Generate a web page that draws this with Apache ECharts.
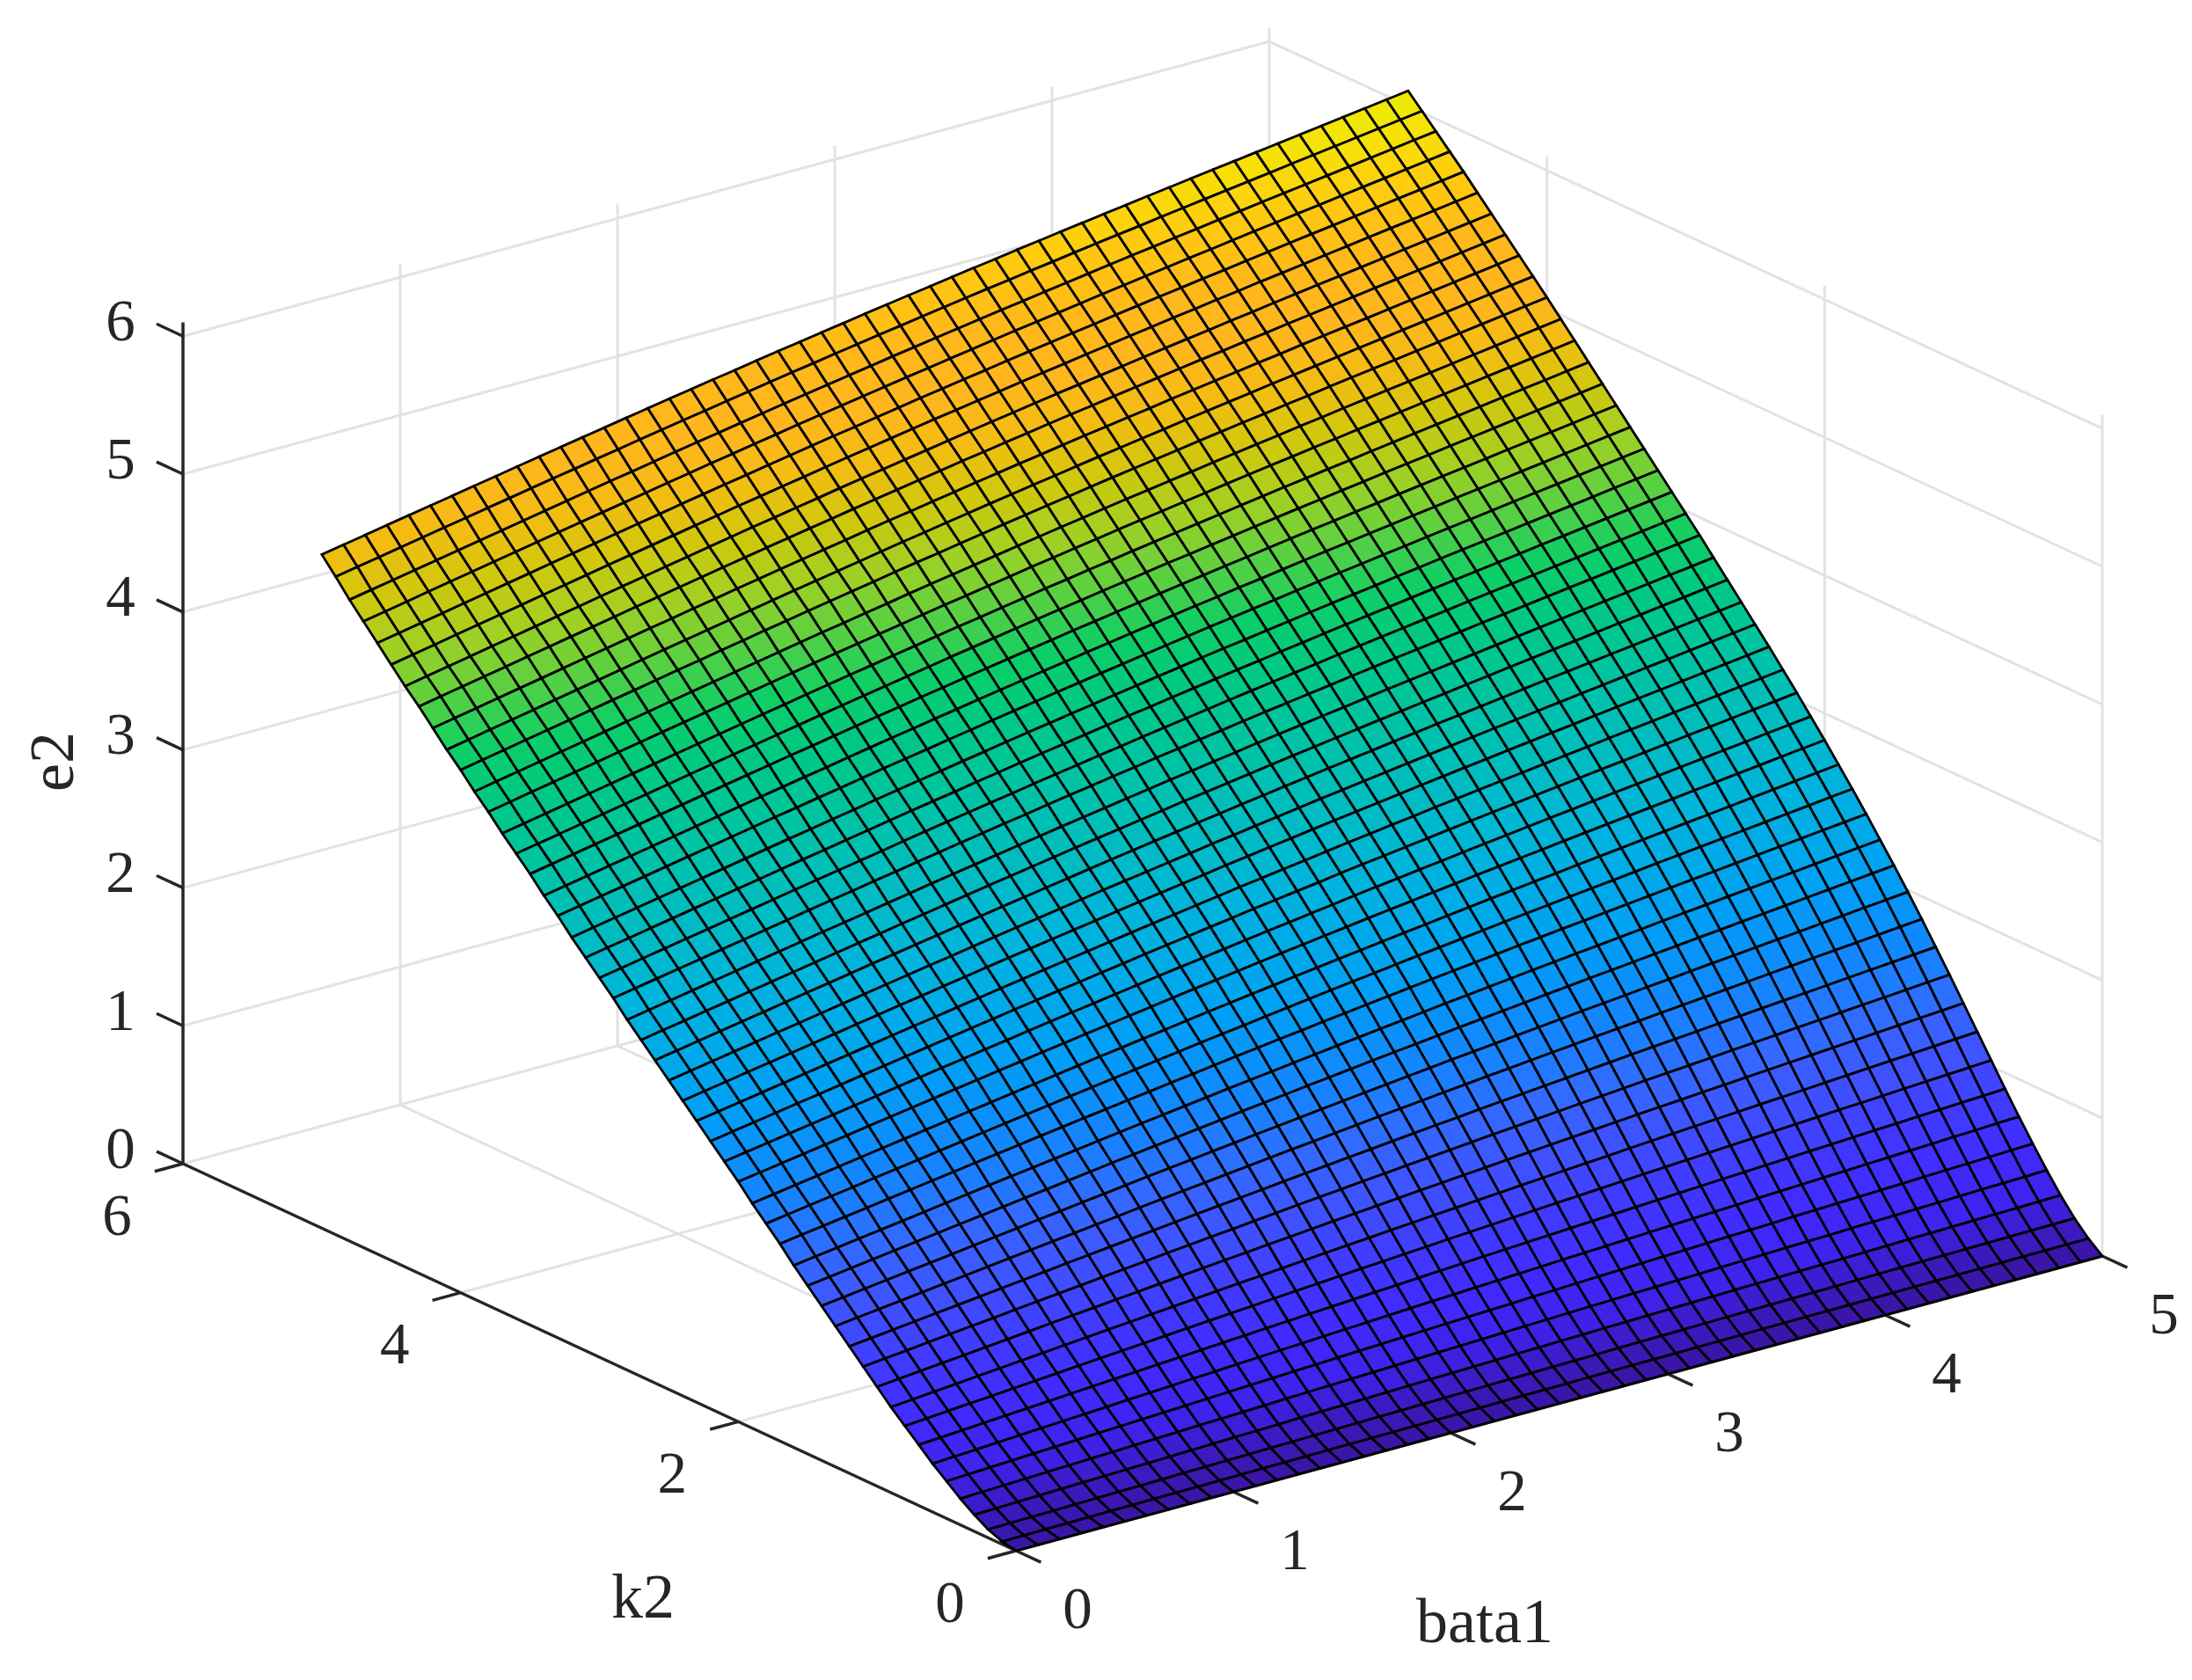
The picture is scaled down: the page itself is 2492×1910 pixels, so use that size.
<!DOCTYPE html>
<html>
<head>
<meta charset="utf-8">
<title>e2 surface</title>
<script src="https://cdn.jsdelivr.net/npm/echarts@6/dist/echarts.min.js"></script>
<style>
html, body { margin: 0; background: #fff; }
#chart { width: 2492px; height: 1910px; }
</style>
</head>
<body>
<div id="chart"></div>
<script>
var bata1 = [0,0.1,0.2,0.3,0.4,0.5,0.6,0.7,0.8,0.9,1,1.1,1.2,1.3,1.4,1.5,1.6,1.7,1.8,1.9,2,2.1,2.2,2.3,2.4,2.5,2.6,2.7,2.8,2.9,3,3.1,3.2,3.3,3.4,3.5,3.6,3.7,3.8,3.9,4,4.1,4.2,4.3,4.4,4.5,4.6,4.7,4.8,4.9,5]
var k2 = [0,0.1,0.2,0.3,0.4,0.5,0.6,0.7,0.8,0.9,1,1.1,1.2,1.3,1.4,1.5,1.6,1.7,1.8,1.9,2,2.1,2.2,2.3,2.4,2.5,2.6,2.7,2.8,2.9,3,3.1,3.2,3.3,3.4,3.5,3.6,3.7,3.8,3.9,4,4.1,4.2,4.3,4.4,4.5,4.6,4.7,4.8,4.9,5]
// one row per k2 value, one column per bata1 value
var e2 = [
[0,0,0,0,0,0,0,0,0,0, 0,0,0,0,0,0,0,0,0,0, 0,0,0,0,0,0,0,0,0,0, 0,0,0,0,0,0,0,0,0,0, 0,0,0,0,0,0,0,0,0,0,0],
[0.020,0.021,0.023,0.024,0.026,0.027,0.028,0.030,0.031,0.032, 0.034,0.035,0.037,0.038,0.039,0.041,0.042,0.043,0.044,0.046, 0.047,0.048,0.049,0.051,0.052,0.053,0.054,0.056,0.057,0.058, 0.059,0.060,0.061,0.062,0.063,0.065,0.066,0.067,0.068,0.069, 0.070,0.071,0.072,0.073,0.074,0.075,0.076,0.077,0.078,0.079,0.080],
[0.060,0.063,0.066,0.068,0.071,0.074,0.077,0.079,0.082,0.085, 0.088,0.090,0.093,0.096,0.098,0.101,0.104,0.106,0.109,0.111, 0.114,0.117,0.119,0.121,0.124,0.126,0.129,0.131,0.133,0.136, 0.138,0.140,0.142,0.145,0.147,0.149,0.151,0.153,0.155,0.157, 0.160,0.162,0.164,0.166,0.168,0.170,0.172,0.174,0.176,0.178,0.180],
[0.120,0.124,0.128,0.132,0.137,0.141,0.145,0.149,0.153,0.157, 0.161,0.165,0.170,0.173,0.178,0.182,0.186,0.189,0.193,0.197, 0.201,0.205,0.208,0.212,0.216,0.220,0.223,0.227,0.230,0.234, 0.237,0.240,0.244,0.247,0.250,0.254,0.257,0.260,0.263,0.266, 0.269,0.272,0.276,0.279,0.282,0.285,0.288,0.291,0.294,0.297,0.300],
[0.190,0.196,0.201,0.207,0.213,0.218,0.224,0.229,0.235,0.241, 0.246,0.252,0.257,0.263,0.268,0.274,0.279,0.284,0.290,0.295, 0.300,0.305,0.310,0.315,0.320,0.325,0.330,0.335,0.340,0.345, 0.349,0.354,0.358,0.363,0.367,0.372,0.376,0.380,0.385,0.389, 0.393,0.398,0.402,0.406,0.410,0.414,0.418,0.423,0.427,0.431,0.435],
[0.270,0.277,0.284,0.291,0.299,0.306,0.313,0.320,0.327,0.334, 0.341,0.348,0.355,0.362,0.369,0.376,0.383,0.389,0.396,0.403, 0.410,0.416,0.422,0.429,0.435,0.441,0.447,0.454,0.459,0.466, 0.472,0.477,0.483,0.489,0.494,0.500,0.506,0.511,0.516,0.522, 0.527,0.533,0.538,0.543,0.548,0.554,0.559,0.564,0.569,0.575,0.580],
[0.350,0.359,0.367,0.376,0.385,0.394,0.402,0.411,0.420,0.429, 0.437,0.446,0.455,0.463,0.472,0.480,0.488,0.496,0.505,0.513, 0.521,0.529,0.537,0.545,0.552,0.560,0.567,0.575,0.582,0.590, 0.597,0.604,0.611,0.618,0.625,0.632,0.639,0.645,0.652,0.659, 0.665,0.672,0.678,0.685,0.691,0.698,0.704,0.711,0.717,0.724,0.730],
[0.440,0.450,0.460,0.471,0.481,0.491,0.501,0.512,0.522,0.532, 0.542,0.552,0.562,0.572,0.582,0.592,0.602,0.611,0.621,0.630, 0.640,0.650,0.658,0.668,0.677,0.686,0.695,0.703,0.712,0.721, 0.729,0.737,0.746,0.754,0.762,0.770,0.778,0.786,0.794,0.801, 0.809,0.817,0.824,0.832,0.840,0.847,0.855,0.862,0.870,0.877,0.885],
[0.530,0.542,0.554,0.566,0.577,0.589,0.601,0.613,0.625,0.637, 0.648,0.660,0.672,0.683,0.695,0.706,0.717,0.728,0.740,0.750, 0.762,0.773,0.783,0.794,0.804,0.815,0.825,0.835,0.845,0.855, 0.865,0.874,0.884,0.893,0.903,0.912,0.921,0.930,0.939,0.948, 0.957,0.966,0.975,0.984,0.992,1.001,1.010,1.019,1.027,1.036,1.045],
[0.620,0.633,0.647,0.660,0.674,0.687,0.701,0.714,0.728,0.741, 0.755,0.767,0.781,0.794,0.807,0.820,0.833,0.845,0.858,0.870, 0.883,0.896,0.907,0.920,0.931,0.944,0.955,0.966,0.977,0.989, 1.000,1.011,1.022,1.032,1.044,1.054,1.065,1.075,1.085,1.095, 1.106,1.115,1.125,1.135,1.145,1.155,1.165,1.175,1.185,1.195,1.205],
[0.720,0.735,0.750,0.765,0.779,0.794,0.809,0.824,0.839,0.854, 0.868,0.883,0.897,0.912,0.926,0.941,0.955,0.968,0.983,0.996, 1.010,1.024,1.037,1.050,1.063,1.077,1.089,1.102,1.114,1.127, 1.139,1.151,1.163,1.175,1.187,1.199,1.210,1.221,1.233,1.244, 1.255,1.266,1.277,1.288,1.299,1.310,1.321,1.332,1.343,1.354,1.365],
[0.820,0.836,0.852,0.869,0.885,0.901,0.917,0.934,0.950,0.966, 0.982,0.998,1.014,1.029,1.046,1.061,1.077,1.091,1.107,1.122, 1.137,1.152,1.166,1.181,1.195,1.210,1.223,1.237,1.251,1.265, 1.278,1.291,1.304,1.317,1.330,1.343,1.356,1.368,1.380,1.392, 1.405,1.417,1.429,1.441,1.453,1.465,1.477,1.489,1.501,1.513,1.525],
[0.920,0.937,0.955,0.972,0.990,1.007,1.025,1.042,1.060,1.077, 1.095,1.112,1.129,1.146,1.163,1.180,1.197,1.213,1.229,1.245, 1.262,1.278,1.293,1.309,1.324,1.340,1.355,1.370,1.384,1.400, 1.414,1.428,1.442,1.456,1.470,1.484,1.498,1.511,1.524,1.537, 1.551,1.564,1.577,1.590,1.602,1.615,1.628,1.641,1.654,1.667,1.680],
[1.020,1.039,1.057,1.076,1.095,1.114,1.132,1.151,1.170,1.189, 1.207,1.225,1.244,1.262,1.281,1.299,1.317,1.334,1.352,1.369, 1.387,1.404,1.420,1.437,1.454,1.471,1.486,1.502,1.518,1.534, 1.550,1.564,1.580,1.595,1.610,1.625,1.639,1.653,1.668,1.682, 1.696,1.710,1.724,1.738,1.752,1.766,1.780,1.793,1.807,1.821,1.835],
[1.120,1.140,1.160,1.180,1.200,1.219,1.239,1.259,1.279,1.299, 1.319,1.338,1.358,1.377,1.397,1.416,1.435,1.453,1.472,1.490, 1.509,1.527,1.545,1.563,1.580,1.598,1.615,1.632,1.649,1.666, 1.682,1.698,1.714,1.730,1.746,1.762,1.777,1.792,1.808,1.822, 1.838,1.853,1.867,1.882,1.897,1.911,1.926,1.941,1.956,1.970,1.985],
[1.220,1.241,1.262,1.283,1.304,1.325,1.346,1.367,1.387,1.408, 1.429,1.449,1.470,1.490,1.511,1.531,1.551,1.570,1.590,1.609, 1.630,1.649,1.667,1.686,1.704,1.723,1.741,1.759,1.776,1.794, 1.812,1.828,1.845,1.862,1.879,1.895,1.912,1.927,1.943,1.959, 1.975,1.991,2.006,2.022,2.037,2.053,2.068,2.084,2.099,2.115,2.130],
[1.320,1.342,1.364,1.386,1.407,1.429,1.451,1.473,1.495,1.517, 1.539,1.559,1.581,1.602,1.624,1.645,1.666,1.686,1.707,1.727, 1.748,1.767,1.786,1.806,1.825,1.845,1.863,1.882,1.900,1.919, 1.938,1.955,1.973,1.990,2.008,2.025,2.042,2.058,2.075,2.091, 2.109,2.125,2.141,2.157,2.173,2.189,2.205,2.222,2.238,2.254,2.270],
[1.430,1.453,1.475,1.498,1.520,1.543,1.565,1.588,1.610,1.633, 1.655,1.677,1.700,1.721,1.744,1.765,1.787,1.807,1.829,1.849, 1.871,1.892,1.911,1.932,1.951,1.972,1.991,2.010,2.029,2.048, 2.067,2.085,2.103,2.121,2.140,2.157,2.175,2.191,2.209,2.226, 2.243,2.260,2.277,2.293,2.310,2.327,2.343,2.360,2.377,2.393,2.410],
[1.530,1.553,1.577,1.600,1.623,1.647,1.670,1.693,1.717,1.740, 1.763,1.786,1.809,1.831,1.855,1.877,1.899,1.921,1.943,1.964, 1.987,2.008,2.028,2.050,2.070,2.091,2.111,2.131,2.150,2.170, 2.190,2.208,2.227,2.246,2.265,2.283,2.301,2.319,2.337,2.354, 2.372,2.390,2.407,2.424,2.441,2.459,2.476,2.493,2.510,2.528,2.545],
[1.630,1.654,1.678,1.702,1.726,1.750,1.774,1.798,1.822,1.846, 1.870,1.893,1.917,1.940,1.964,1.987,2.010,2.032,2.055,2.077, 2.100,2.122,2.143,2.165,2.186,2.208,2.228,2.249,2.268,2.289, 2.309,2.328,2.348,2.367,2.387,2.405,2.424,2.442,2.461,2.479, 2.497,2.515,2.533,2.551,2.568,2.586,2.604,2.622,2.640,2.657,2.675],
[1.740,1.764,1.789,1.813,1.838,1.862,1.887,1.911,1.936,1.960, 1.985,2.008,2.033,2.056,2.081,2.104,2.128,2.150,2.173,2.196, 2.219,2.242,2.263,2.285,2.307,2.329,2.349,2.370,2.391,2.412, 2.432,2.451,2.472,2.491,2.511,2.530,2.549,2.567,2.587,2.605, 2.624,2.642,2.660,2.678,2.696,2.714,2.733,2.751,2.769,2.787,2.805],
[1.840,1.865,1.890,1.915,1.940,1.965,1.990,2.015,2.041,2.066, 2.091,2.115,2.140,2.164,2.189,2.213,2.237,2.260,2.284,2.307, 2.331,2.353,2.375,2.398,2.420,2.443,2.463,2.485,2.506,2.528, 2.549,2.568,2.589,2.608,2.629,2.649,2.668,2.687,2.707,2.725, 2.745,2.763,2.782,2.800,2.819,2.837,2.856,2.874,2.893,2.911,2.930],
[1.940,1.966,1.991,2.017,2.043,2.068,2.094,2.120,2.145,2.171, 2.196,2.221,2.247,2.271,2.297,2.321,2.346,2.369,2.394,2.417, 2.442,2.465,2.487,2.511,2.533,2.557,2.578,2.600,2.621,2.644, 2.665,2.685,2.706,2.726,2.747,2.767,2.787,2.806,2.826,2.845, 2.865,2.884,2.903,2.922,2.941,2.960,2.979,2.998,3.017,3.036,3.055],
[2.040,2.066,2.092,2.118,2.144,2.171,2.197,2.223,2.249,2.275, 2.301,2.326,2.352,2.377,2.403,2.428,2.453,2.477,2.502,2.526, 2.551,2.575,2.597,2.621,2.644,2.668,2.689,2.712,2.733,2.756, 2.778,2.798,2.820,2.840,2.862,2.882,2.903,2.922,2.942,2.962, 2.982,3.001,3.021,3.040,3.059,3.079,3.098,3.117,3.136,3.156,3.175],
[2.140,2.167,2.193,2.220,2.246,2.273,2.299,2.326,2.353,2.379, 2.406,2.431,2.458,2.483,2.510,2.535,2.560,2.585,2.610,2.634, 2.660,2.684,2.707,2.731,2.754,2.779,2.801,2.824,2.846,2.869, 2.891,2.912,2.933,2.954,2.976,2.997,3.018,3.037,3.058,3.078, 3.099,3.118,3.138,3.158,3.177,3.197,3.216,3.236,3.256,3.275,3.295],
[2.240,2.267,2.294,2.321,2.348,2.375,2.401,2.428,2.455,2.482, 2.509,2.535,2.562,2.587,2.614,2.640,2.666,2.690,2.716,2.741, 2.767,2.791,2.814,2.839,2.862,2.887,2.909,2.933,2.955,2.978, 3.001,3.022,3.044,3.065,3.087,3.108,3.129,3.149,3.170,3.190, 3.211,3.231,3.251,3.271,3.291,3.311,3.330,3.350,3.370,3.390,3.410],
[2.340,2.367,2.395,2.422,2.449,2.476,2.504,2.531,2.558,2.585, 2.613,2.639,2.666,2.692,2.719,2.745,2.771,2.796,2.822,2.847, 2.873,2.898,2.922,2.947,2.970,2.995,3.018,3.042,3.064,3.088, 3.110,3.132,3.154,3.175,3.198,3.219,3.241,3.261,3.282,3.302, 3.324,3.344,3.364,3.384,3.404,3.424,3.444,3.465,3.485,3.505,3.525],
[2.440,2.468,2.495,2.523,2.550,2.578,2.606,2.633,2.661,2.688, 2.716,2.742,2.770,2.796,2.824,2.850,2.877,2.902,2.928,2.954, 2.980,3.005,3.029,3.054,3.078,3.104,3.126,3.150,3.173,3.197, 3.220,3.242,3.264,3.286,3.309,3.330,3.352,3.372,3.394,3.414, 3.436,3.456,3.477,3.497,3.518,3.538,3.558,3.579,3.599,3.620,3.640],
[2.540,2.568,2.596,2.624,2.652,2.680,2.708,2.736,2.764,2.792, 2.819,2.846,2.874,2.901,2.929,2.956,2.982,3.008,3.035,3.060, 3.087,3.112,3.137,3.162,3.186,3.212,3.235,3.259,3.282,3.307, 3.330,3.352,3.375,3.397,3.420,3.442,3.463,3.484,3.506,3.527, 3.548,3.569,3.590,3.610,3.631,3.652,3.672,3.693,3.714,3.734,3.755],
[2.650,2.678,2.706,2.734,2.762,2.790,2.818,2.846,2.874,2.903, 2.931,2.957,2.986,3.012,3.040,3.067,3.094,3.120,3.147,3.172, 3.199,3.225,3.249,3.275,3.299,3.325,3.348,3.372,3.395,3.420, 3.443,3.465,3.488,3.510,3.533,3.555,3.577,3.598,3.620,3.641, 3.663,3.683,3.704,3.725,3.746,3.766,3.787,3.808,3.829,3.849,3.870],
[2.750,2.778,2.807,2.835,2.863,2.891,2.920,2.948,2.976,3.005, 3.033,3.060,3.088,3.115,3.144,3.171,3.198,3.224,3.251,3.276, 3.304,3.329,3.354,3.380,3.404,3.430,3.454,3.478,3.502,3.526, 3.550,3.572,3.595,3.617,3.641,3.663,3.685,3.706,3.728,3.749, 3.771,3.792,3.813,3.834,3.855,3.875,3.896,3.917,3.938,3.959,3.980],
[2.850,2.879,2.907,2.936,2.964,2.993,3.021,3.050,3.078,3.107, 3.135,3.162,3.191,3.218,3.247,3.274,3.301,3.327,3.355,3.381, 3.408,3.434,3.459,3.485,3.510,3.536,3.559,3.584,3.608,3.632, 3.656,3.678,3.702,3.724,3.748,3.770,3.792,3.813,3.836,3.857, 3.879,3.900,3.921,3.942,3.964,3.985,4.006,4.027,4.048,4.069,4.090],
[2.950,2.979,3.008,3.036,3.065,3.094,3.123,3.151,3.180,3.209, 3.238,3.265,3.294,3.321,3.350,3.378,3.405,3.431,3.459,3.485, 3.513,3.539,3.564,3.590,3.615,3.641,3.665,3.690,3.714,3.739, 3.763,3.785,3.809,3.831,3.855,3.878,3.900,3.921,3.944,3.965, 3.988,4.009,4.030,4.051,4.073,4.094,4.115,4.136,4.158,4.179,4.200],
[3.060,3.089,3.118,3.146,3.175,3.204,3.233,3.261,3.290,3.319, 3.348,3.375,3.404,3.431,3.460,3.488,3.515,3.541,3.569,3.595, 3.623,3.649,3.674,3.700,3.725,3.751,3.775,3.800,3.824,3.849, 3.873,3.895,3.919,3.941,3.965,3.988,4.010,4.031,4.054,4.075, 4.098,4.119,4.140,4.161,4.183,4.204,4.225,4.246,4.268,4.289,4.310],
[3.160,3.189,3.218,3.247,3.276,3.305,3.334,3.363,3.392,3.421, 3.450,3.478,3.507,3.534,3.563,3.591,3.619,3.645,3.673,3.699, 3.727,3.753,3.779,3.805,3.830,3.857,3.881,3.906,3.930,3.955, 3.979,4.002,4.026,4.048,4.072,4.095,4.118,4.139,4.162,4.183, 4.206,4.227,4.249,4.270,4.291,4.313,4.334,4.356,4.377,4.399,4.420],
[3.270,3.299,3.328,3.357,3.386,3.415,3.444,3.473,3.502,3.531, 3.560,3.588,3.617,3.644,3.673,3.701,3.729,3.755,3.783,3.809, 3.837,3.863,3.889,3.915,3.940,3.967,3.991,4.016,4.040,4.065, 4.089,4.112,4.136,4.158,4.182,4.205,4.228,4.249,4.272,4.293, 4.316,4.337,4.359,4.380,4.401,4.423,4.444,4.466,4.487,4.509,4.530],
[3.370,3.399,3.428,3.458,3.487,3.516,3.545,3.574,3.604,3.633, 3.662,3.690,3.719,3.747,3.776,3.804,3.832,3.859,3.887,3.914, 3.942,3.968,3.994,4.020,4.046,4.072,4.096,4.122,4.146,4.171, 4.196,4.218,4.242,4.265,4.289,4.312,4.335,4.357,4.380,4.401, 4.424,4.446,4.467,4.489,4.510,4.532,4.554,4.575,4.597,4.618,4.640],
[3.470,3.499,3.529,3.558,3.588,3.617,3.647,3.676,3.706,3.735, 3.764,3.793,3.822,3.850,3.880,3.908,3.936,3.963,3.991,4.018, 4.046,4.073,4.098,4.125,4.151,4.178,4.202,4.228,4.252,4.278, 4.302,4.325,4.349,4.372,4.397,4.420,4.443,4.465,4.488,4.509, 4.532,4.554,4.576,4.598,4.619,4.641,4.663,4.685,4.706,4.728,4.750],
[3.580,3.609,3.639,3.668,3.698,3.727,3.757,3.786,3.816,3.845, 3.874,3.903,3.932,3.960,3.990,4.018,4.046,4.073,4.101,4.128, 4.156,4.183,4.208,4.235,4.261,4.288,4.312,4.338,4.362,4.388, 4.412,4.435,4.459,4.482,4.507,4.530,4.553,4.575,4.598,4.619, 4.642,4.664,4.686,4.708,4.729,4.751,4.773,4.795,4.816,4.838,4.860],
[3.680,3.710,3.739,3.769,3.799,3.828,3.858,3.888,3.917,3.947, 3.977,4.005,4.035,4.063,4.093,4.121,4.150,4.177,4.205,4.232, 4.261,4.288,4.313,4.340,4.366,4.393,4.418,4.444,4.468,4.494, 4.519,4.542,4.566,4.589,4.614,4.637,4.660,4.682,4.706,4.727, 4.751,4.773,4.795,4.816,4.838,4.860,4.882,4.904,4.926,4.948,4.970],
[3.790,3.820,3.849,3.879,3.909,3.938,3.968,3.998,4.027,4.057, 4.087,4.115,4.145,4.173,4.203,4.231,4.260,4.287,4.315,4.342, 4.371,4.398,4.423,4.450,4.476,4.503,4.528,4.554,4.578,4.604, 4.629,4.652,4.676,4.699,4.724,4.747,4.770,4.792,4.816,4.837, 4.861,4.883,4.905,4.926,4.948,4.970,4.992,5.014,5.036,5.058,5.080],
[3.890,3.920,3.950,3.979,4.009,4.039,4.069,4.098,4.128,4.158, 4.188,4.216,4.246,4.275,4.304,4.333,4.361,4.389,4.417,4.444, 4.473,4.500,4.526,4.553,4.579,4.606,4.631,4.657,4.681,4.707, 4.732,4.755,4.780,4.803,4.828,4.851,4.874,4.896,4.920,4.942, 4.965,4.987,5.009,5.031,5.053,5.075,5.097,5.119,5.141,5.163,5.185],
[4.000,4.030,4.059,4.089,4.119,4.148,4.178,4.208,4.237,4.267, 4.297,4.325,4.355,4.383,4.413,4.441,4.470,4.497,4.525,4.552, 4.581,4.608,4.633,4.660,4.686,4.713,4.738,4.764,4.788,4.814, 4.839,4.862,4.886,4.909,4.934,4.957,4.980,5.002,5.026,5.047, 5.071,5.093,5.115,5.136,5.158,5.180,5.202,5.224,5.246,5.268,5.290],
[4.110,4.140,4.169,4.199,4.228,4.258,4.287,4.317,4.346,4.376, 4.406,4.434,4.463,4.492,4.521,4.549,4.578,4.605,4.633,4.660, 4.688,4.715,4.741,4.768,4.794,4.821,4.845,4.871,4.895,4.921, 4.945,4.968,4.993,5.016,5.040,5.063,5.087,5.108,5.132,5.153, 5.177,5.198,5.220,5.242,5.264,5.286,5.308,5.329,5.351,5.373,5.395],
[4.210,4.240,4.269,4.299,4.329,4.358,4.388,4.418,4.447,4.477, 4.507,4.535,4.565,4.593,4.623,4.651,4.680,4.707,4.735,4.762, 4.791,4.818,4.843,4.870,4.896,4.923,4.948,4.974,4.998,5.024, 5.049,5.072,5.096,5.119,5.144,5.167,5.190,5.212,5.236,5.257, 5.281,5.303,5.325,5.346,5.368,5.390,5.412,5.434,5.456,5.478,5.500],
[4.320,4.350,4.379,4.409,4.438,4.468,4.497,4.527,4.556,4.586, 4.616,4.644,4.673,4.702,4.731,4.759,4.788,4.815,4.843,4.870, 4.898,4.925,4.951,4.978,5.004,5.031,5.055,5.081,5.105,5.131, 5.155,5.178,5.203,5.226,5.250,5.273,5.297,5.318,5.342,5.363, 5.387,5.408,5.430,5.452,5.474,5.496,5.518,5.539,5.561,5.583,5.605],
[4.430,4.459,4.489,4.518,4.548,4.577,4.607,4.636,4.666,4.695, 4.724,4.753,4.782,4.810,4.840,4.868,4.896,4.923,4.951,4.978, 5.006,5.033,5.058,5.085,5.111,5.138,5.162,5.188,5.212,5.238, 5.262,5.285,5.309,5.332,5.357,5.380,5.403,5.425,5.448,5.469, 5.492,5.514,5.536,5.558,5.579,5.601,5.623,5.645,5.666,5.688,5.710],
[4.540,4.569,4.598,4.628,4.657,4.686,4.715,4.744,4.774,4.803, 4.832,4.860,4.889,4.917,4.946,4.974,5.002,5.029,5.057,5.084, 5.112,5.138,5.164,5.190,5.216,5.242,5.266,5.292,5.316,5.341, 5.366,5.388,5.412,5.435,5.459,5.482,5.505,5.527,5.550,5.571, 5.594,5.616,5.637,5.659,5.680,5.702,5.724,5.745,5.767,5.788,5.810],
[4.650,4.679,4.708,4.737,4.766,4.795,4.824,4.853,4.882,4.911, 4.940,4.968,4.997,5.024,5.053,5.081,5.109,5.135,5.163,5.189, 5.217,5.243,5.269,5.295,5.320,5.347,5.371,5.396,5.420,5.445, 5.469,5.492,5.516,5.538,5.562,5.585,5.608,5.629,5.652,5.673, 5.696,5.717,5.739,5.760,5.781,5.803,5.824,5.846,5.867,5.889,5.910],
[4.770,4.799,4.827,4.856,4.884,4.913,4.941,4.970,4.998,5.027, 5.055,5.082,5.111,5.138,5.167,5.194,5.221,5.247,5.275,5.301, 5.328,5.354,5.379,5.405,5.430,5.456,5.479,5.504,5.528,5.552, 5.576,5.598,5.622,5.644,5.668,5.690,5.712,5.733,5.756,5.777, 5.799,5.820,5.841,5.862,5.884,5.905,5.926,5.947,5.968,5.989,6.010],
[4.885,4.913,4.941,4.970,4.998,5.026,5.054,5.082,5.110,5.139, 5.167,5.194,5.222,5.249,5.277,5.304,5.331,5.357,5.384,5.409, 5.436,5.462,5.486,5.512,5.537,5.562,5.586,5.610,5.633,5.658, 5.681,5.703,5.727,5.749,5.772,5.794,5.816,5.837,5.859,5.880, 5.902,5.923,5.943,5.964,5.985,6.006,6.027,6.048,6.068,6.089,6.110]
]
var bataTicks = [0, 1, 2, 3, 4, 5]
var k2Ticks = [0, 2, 4, 6]
var e2Ticks = [0, 1, 2, 3, 4, 5, 6]
var e2Top = 6.1
var colorStops = ['#3a16a8', '#3f22ec', '#402cff', '#403cff', '#3f52ff', '#3468ff', '#1a80ff', '#0a90fa', '#00a0f4', '#00aae8', '#00b4dc', '#00bac8', '#00bfb4', '#00c49c', '#00c884', '#0cce66', '#58d042', '#a0d024', '#d0c80c', '#f4bc12', '#ffb61e', '#ffb81a', '#ffc810', '#f6e006', '#e8f000']

// fixed oblique view, the plane it lands on is one hidden cartesian grid the size of the page
function project(b, k, e) {
  return [1155 + 247 * b - 157.83 * k, 1763 - 67 * b - 73.33 * k - 156.8 * e]
}

var wallLines = []
e2Ticks.forEach(function(e) {
  wallLines.push([0, 6, e, 5, 6, e])
  wallLines.push([5, 6, e, 5, 0, e])
})
bataTicks.forEach(function(b) {
  if (b > 0) wallLines.push([b, 6, 0, b, 6, e2Top])
  if (b > 0) wallLines.push([b, 0, 0, b, 6, 0])
})
k2Ticks.forEach(function(k) {
  if (k < 6) wallLines.push([5, k, 0, 5, k, e2Top])
  if (k < 6) wallLines.push([0, k, 0, 5, k, 0])
})

var axisLines = [
  [0, 6, 0, 0, 6, e2Top],
  [0, 0, 0, 0, 6, 0],
  [0, 0, 0, 5, 0, 0]
]
e2Ticks.forEach(function(e) { axisLines.push([0, 6, e, 0, 6.19, e]) })
k2Ticks.forEach(function(k) { axisLines.push([0, k, 0, -0.13, k, 0]) })
bataTicks.forEach(function(b) { axisLines.push([b, 0, 0, b, -0.18, 0]) })

var cells = []
for (var i = k2.length - 2; i >= 0; i--) {
  for (var j = bata1.length - 2; j >= 0; j--) {
    cells.push([j, i, e2[i][j]])
  }
}

var tickLabels = []
e2Ticks.forEach(function(e) { tickLabels.push([0, 6, e, -71, -13]) })
k2Ticks.forEach(function(k) { tickLabels.push([0, k, 0, -75, 63]) })
bataTicks.forEach(function(b) { tickLabels.push([b, 0, 0, 70, 70]) })

function segmentSeries(name, segments, color, width) {
  return {
    name: name,
    type: 'custom',
    coordinateSystem: 'cartesian2d',
    silent: true,
    clip: false,
    data: segments,
    renderItem: function(params, api) {
      var a = api.coord(project(api.value(0), api.value(1), api.value(2)))
      var c = api.coord(project(api.value(3), api.value(4), api.value(5)))
      return {
        type: 'line',
        shape: { x1: a[0], y1: a[1], x2: c[0], y2: c[1] },
        style: { stroke: color, lineWidth: width, fill: null }
      }
    }
  }
}

var myChart = echarts.init(document.getElementById('chart'))
var labelFont = '"Liberation Serif", "Times New Roman", serif'
myChart.setOption({
  backgroundColor: '#fff',
  animation: false,
  grid: { left: 0, right: 0, top: 0, bottom: 0 },
  xAxis: { type: 'value', min: 0, max: 2492, show: false },
  yAxis: { type: 'value', min: 0, max: 1910, inverse: true, show: false },
  visualMap: {
    show: false,
    seriesIndex: 2,
    dimension: 2,
    min: 0,
    max: e2Top,
    inRange: { color: colorStops }
  },
  graphic: [
    { type: 'text', x: 64, y: 866, rotation: Math.PI / 2, style: { text: 'e2', fontFamily: labelFont, fontSize: 72, fill: '#262626', align: 'center', verticalAlign: 'middle' } },
    { type: 'text', x: 731, y: 1820, style: { text: 'k2', fontFamily: labelFont, fontSize: 72, fill: '#262626', align: 'center', verticalAlign: 'middle' } },
    { type: 'text', x: 1688, y: 1848, style: { text: 'bata1', fontFamily: labelFont, fontSize: 72, fill: '#262626', align: 'center', verticalAlign: 'middle' } }
  ],
  series: [
    segmentSeries('walls', wallLines, '#e2e2e2', 3),
    segmentSeries('axes', axisLines, '#262626', 3.5),
    {
      name: 'e2',
      type: 'custom',
      coordinateSystem: 'cartesian2d',
      silent: true,
      clip: false,
      progressive: 0,
      data: cells,
      renderItem: function(params, api) {
        var j = api.value(0)
        var i = api.value(1)
        var corners = [[j, i], [j + 1, i], [j + 1, i + 1], [j, i + 1]].map(function(c) {
          return api.coord(project(bata1[c[0]], k2[c[1]], e2[c[1]][c[0]]))
        })
        return {
          type: 'polygon',
          shape: { points: corners },
          style: { fill: api.visual('color'), stroke: '#000', lineWidth: 2.8 }
        }
      }
    },
    {
      name: 'tick labels',
      type: 'custom',
      coordinateSystem: 'cartesian2d',
      silent: true,
      clip: false,
      data: tickLabels,
      renderItem: function(params, api) {
        var b = api.value(0)
        var k = api.value(1)
        var e = api.value(2)
        var p = api.coord(project(b, k, e))
        var text = params.dataIndex < e2Ticks.length ? e : (params.dataIndex < e2Ticks.length + k2Ticks.length ? k : b)
        return {
          type: 'text',
          x: p[0] + api.value(3),
          y: p[1] + api.value(4),
          style: { text: String(text), fontFamily: labelFont, fontSize: 67, fill: '#262626', align: 'center', verticalAlign: 'middle' }
        }
      }
    }
  ]
})
</script>
</body>
</html>
